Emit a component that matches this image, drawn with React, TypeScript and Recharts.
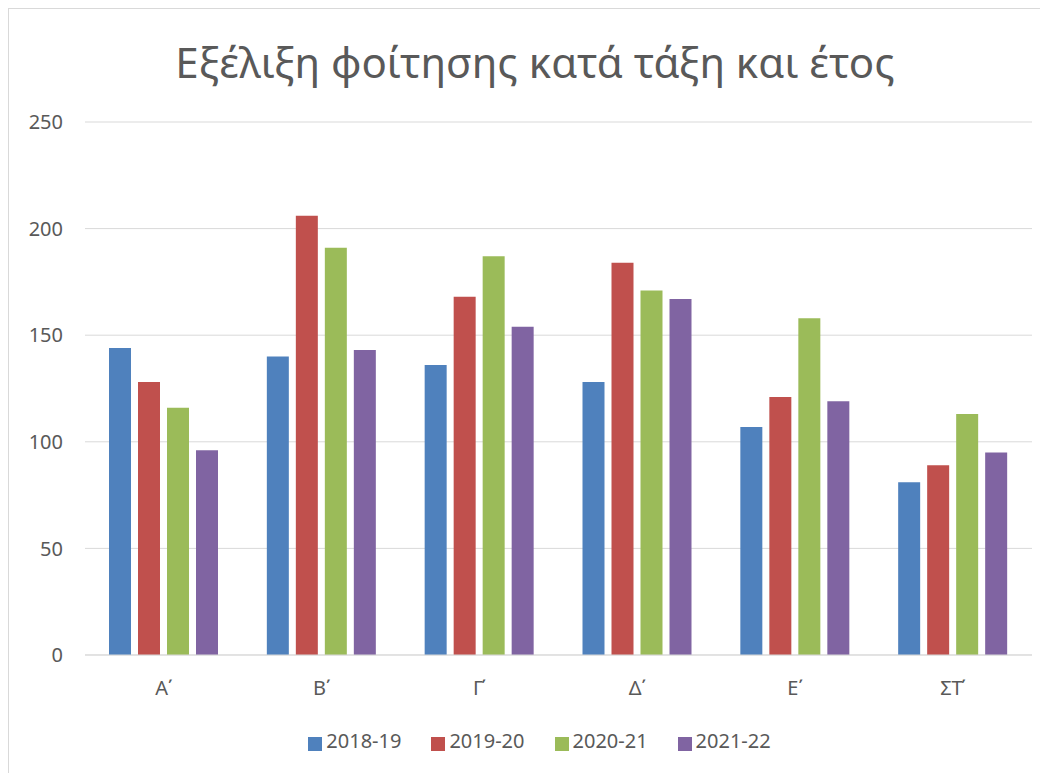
import React from 'react';
import { BarChart, Bar, XAxis, YAxis, CartesianGrid, Legend } from 'recharts';

const grades = ['Α΄', 'Β΄', 'Γ΄', 'Δ΄', 'Ε΄', 'ΣΤ΄'];
const y2018 = [144, 140, 136, 128, 107, 81];
const y2019 = [128, 206, 168, 184, 121, 89];
const y2020 = [116, 191, 187, 171, 158, 113];
const y2021 = [96, 143, 154, 167, 119, 95];
const yTicks = [0, 50, 100, 150, 200, 250];

const series = [
  { key: '2018-19', color: '#4F81BD' },
  { key: '2019-20', color: '#C0504D' },
  { key: '2020-21', color: '#9BBB59' },
  { key: '2021-22', color: '#8064A2' },
];

const chartData = grades.map((g, i) => ({
  grade: g,
  '2018-19': y2018[i],
  '2019-20': y2019[i],
  '2020-21': y2020[i],
  '2021-22': y2021[i],
}));

const font = '"Noto Sans", "Open Sans", sans-serif';

export default function App() {
  return (
    <div
      style={{
        position: 'relative',
        width: 1060,
        height: 790,
        border: '1px solid #d9d9d9',
        background: '#fff',
        fontFamily: font,
      }}
    >
      <div
        style={{
          position: 'absolute',
          top: 24,
          left: 0,
          width: 1060,
          paddingRight: 8,
          boxSizing: 'border-box',
          textAlign: 'center',
          fontSize: 42,
          color: '#595959',
        }}
      >
        Εξέλιξη φοίτησης κατά τάξη και έτος
      </div>
      <BarChart
        width={1040}
        height={765}
        data={chartData}
        margin={{ top: 113, right: 17, left: 0, bottom: 20 }}
        barSize={22}
        barGap={7}
      >
        <CartesianGrid vertical={false} stroke="#d9d9d9" />
        <XAxis
          dataKey="grade"
          height={72}
          tickLine={false}
          axisLine={{ stroke: '#d9d9d9' }}
          tickMargin={20}
          tick={{ fill: '#595959', fontSize: 20, fontFamily: font }}
        />
        <YAxis
          width={76}
          domain={[0, 250]}
          ticks={yTicks}
          axisLine={false}
          tickLine={false}
          tickSize={0}
          tickMargin={22}
          tick={{ fill: '#595959', fontSize: 20, fontFamily: font }}
        />
        <Legend
          verticalAlign="bottom"
          iconType="square"
          iconSize={14}
          wrapperStyle={{ left: 34 }}
          formatter={(value) => (
            <span style={{ color: '#595959', fontSize: 20, fontFamily: font, marginRight: 20 }}>
              {value}
            </span>
          )}
        />
        {series.map((s) => (
          <Bar key={s.key} dataKey={s.key} fill={s.color} isAnimationActive={false} />
        ))}
      </BarChart>
    </div>
  );
}
